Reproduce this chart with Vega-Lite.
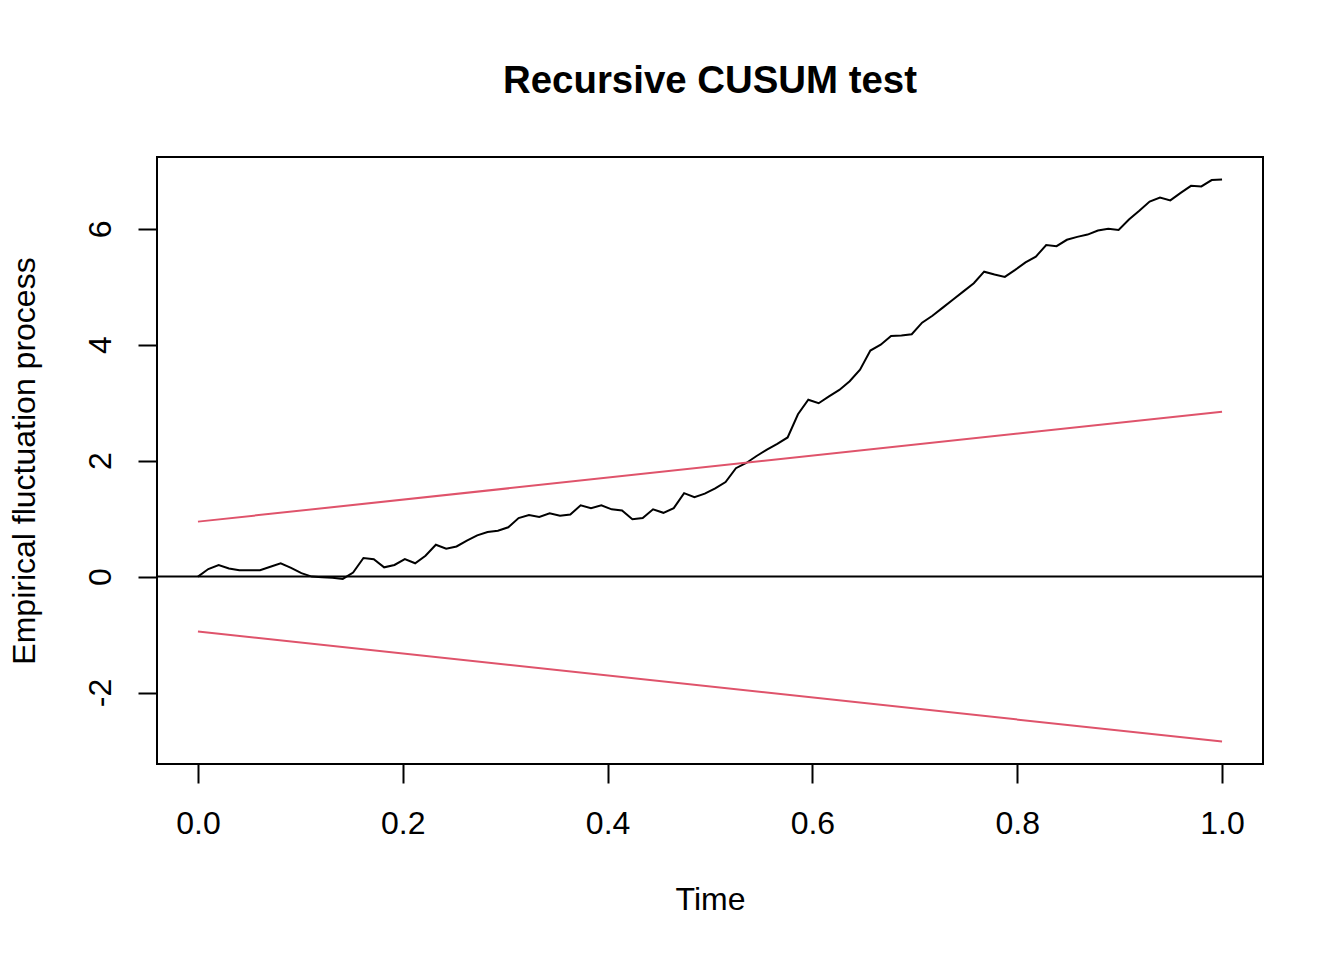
{
  "$schema": "https://vega.github.io/schema/vega-lite/v6.json",
  "width": 1106,
  "height": 607,
  "autosize": {"type": "none"},
  "padding": {"left": 157, "top": 157, "right": 81, "bottom": 196},
  "background": "white",
  "title": {
    "text": "Recursive CUSUM test",
    "font": "Liberation Sans",
    "fontSize": 38.4,
    "fontWeight": "bold",
    "color": "black",
    "anchor": "middle",
    "baseline": "alphabetic",
    "offset": 26
  },
  "datasets": {
    "lines": [
      {"t": 0, "y": 0, "series": "process"},
      {"t": 0.0101, "y": 0.13, "series": "process"},
      {"t": 0.0202, "y": 0.2, "series": "process"},
      {"t": 0.0303, "y": 0.14, "series": "process"},
      {"t": 0.0404, "y": 0.11, "series": "process"},
      {"t": 0.0505, "y": 0.11, "series": "process"},
      {"t": 0.0606, "y": 0.11, "series": "process"},
      {"t": 0.0707, "y": 0.17, "series": "process"},
      {"t": 0.0808, "y": 0.23, "series": "process"},
      {"t": 0.0909, "y": 0.15, "series": "process"},
      {"t": 0.101, "y": 0.06, "series": "process"},
      {"t": 0.1111, "y": 0.0, "series": "process"},
      {"t": 0.1212, "y": -0.01, "series": "process"},
      {"t": 0.1313, "y": -0.02, "series": "process"},
      {"t": 0.1414, "y": -0.04, "series": "process"},
      {"t": 0.1515, "y": 0.07, "series": "process"},
      {"t": 0.1616, "y": 0.32, "series": "process"},
      {"t": 0.1717, "y": 0.3, "series": "process"},
      {"t": 0.1818, "y": 0.16, "series": "process"},
      {"t": 0.1919, "y": 0.2, "series": "process"},
      {"t": 0.202, "y": 0.3, "series": "process"},
      {"t": 0.2121, "y": 0.23, "series": "process"},
      {"t": 0.2222, "y": 0.36, "series": "process"},
      {"t": 0.2323, "y": 0.55, "series": "process"},
      {"t": 0.2424, "y": 0.48, "series": "process"},
      {"t": 0.2525, "y": 0.52, "series": "process"},
      {"t": 0.2626, "y": 0.62, "series": "process"},
      {"t": 0.2727, "y": 0.71, "series": "process"},
      {"t": 0.2828, "y": 0.77, "series": "process"},
      {"t": 0.2929, "y": 0.79, "series": "process"},
      {"t": 0.303, "y": 0.85, "series": "process"},
      {"t": 0.3131, "y": 1.01, "series": "process"},
      {"t": 0.3232, "y": 1.06, "series": "process"},
      {"t": 0.3333, "y": 1.03, "series": "process"},
      {"t": 0.3434, "y": 1.09, "series": "process"},
      {"t": 0.3535, "y": 1.05, "series": "process"},
      {"t": 0.3636, "y": 1.07, "series": "process"},
      {"t": 0.3737, "y": 1.23, "series": "process"},
      {"t": 0.3838, "y": 1.18, "series": "process"},
      {"t": 0.3939, "y": 1.23, "series": "process"},
      {"t": 0.404, "y": 1.16, "series": "process"},
      {"t": 0.4141, "y": 1.14, "series": "process"},
      {"t": 0.4242, "y": 0.99, "series": "process"},
      {"t": 0.4343, "y": 1.01, "series": "process"},
      {"t": 0.4444, "y": 1.16, "series": "process"},
      {"t": 0.4545, "y": 1.1, "series": "process"},
      {"t": 0.4646, "y": 1.18, "series": "process"},
      {"t": 0.4747, "y": 1.44, "series": "process"},
      {"t": 0.4848, "y": 1.37, "series": "process"},
      {"t": 0.4949, "y": 1.43, "series": "process"},
      {"t": 0.5051, "y": 1.52, "series": "process"},
      {"t": 0.5152, "y": 1.63, "series": "process"},
      {"t": 0.5253, "y": 1.87, "series": "process"},
      {"t": 0.5354, "y": 1.96, "series": "process"},
      {"t": 0.5455, "y": 2.08, "series": "process"},
      {"t": 0.5556, "y": 2.19, "series": "process"},
      {"t": 0.5657, "y": 2.29, "series": "process"},
      {"t": 0.5758, "y": 2.4, "series": "process"},
      {"t": 0.5859, "y": 2.8, "series": "process"},
      {"t": 0.596, "y": 3.05, "series": "process"},
      {"t": 0.6061, "y": 2.99, "series": "process"},
      {"t": 0.6162, "y": 3.11, "series": "process"},
      {"t": 0.6263, "y": 3.22, "series": "process"},
      {"t": 0.6364, "y": 3.37, "series": "process"},
      {"t": 0.6465, "y": 3.57, "series": "process"},
      {"t": 0.6566, "y": 3.9, "series": "process"},
      {"t": 0.6667, "y": 4.0, "series": "process"},
      {"t": 0.6768, "y": 4.15, "series": "process"},
      {"t": 0.6869, "y": 4.16, "series": "process"},
      {"t": 0.697, "y": 4.18, "series": "process"},
      {"t": 0.7071, "y": 4.38, "series": "process"},
      {"t": 0.7172, "y": 4.5, "series": "process"},
      {"t": 0.7273, "y": 4.64, "series": "process"},
      {"t": 0.7374, "y": 4.78, "series": "process"},
      {"t": 0.7475, "y": 4.92, "series": "process"},
      {"t": 0.7576, "y": 5.06, "series": "process"},
      {"t": 0.7677, "y": 5.26, "series": "process"},
      {"t": 0.7778, "y": 5.21, "series": "process"},
      {"t": 0.7879, "y": 5.17, "series": "process"},
      {"t": 0.798, "y": 5.29, "series": "process"},
      {"t": 0.8081, "y": 5.42, "series": "process"},
      {"t": 0.8182, "y": 5.52, "series": "process"},
      {"t": 0.8283, "y": 5.72, "series": "process"},
      {"t": 0.8384, "y": 5.7, "series": "process"},
      {"t": 0.8485, "y": 5.81, "series": "process"},
      {"t": 0.8586, "y": 5.86, "series": "process"},
      {"t": 0.8687, "y": 5.9, "series": "process"},
      {"t": 0.8788, "y": 5.97, "series": "process"},
      {"t": 0.8889, "y": 6.0, "series": "process"},
      {"t": 0.899, "y": 5.98, "series": "process"},
      {"t": 0.9091, "y": 6.16, "series": "process"},
      {"t": 0.9192, "y": 6.31, "series": "process"},
      {"t": 0.9293, "y": 6.47, "series": "process"},
      {"t": 0.9394, "y": 6.54, "series": "process"},
      {"t": 0.9495, "y": 6.49, "series": "process"},
      {"t": 0.9596, "y": 6.62, "series": "process"},
      {"t": 0.9697, "y": 6.74, "series": "process"},
      {"t": 0.9798, "y": 6.73, "series": "process"},
      {"t": 0.9899, "y": 6.84, "series": "process"},
      {"t": 1, "y": 6.85, "series": "process"},
      {"t": 0, "y": 0.948, "series": "upper"},
      {"t": 1, "y": 2.845, "series": "upper"},
      {"t": 0, "y": -0.948, "series": "lower"},
      {"t": 1, "y": -2.845, "series": "lower"}
    ]
  },
  "layer": [
    {
      "data": {"name": "lines"},
      "mark": {"type": "line", "strokeWidth": 2, "clip": true},
      "encoding": {
        "x": {
          "field": "t",
          "type": "quantitative",
          "scale": {"domain": [-0.04, 1.04], "nice": false, "zero": false},
          "axis": {
            "title": "Time",
            "values": [0, 0.2, 0.4, 0.6, 0.8, 1],
            "format": ".1f",
            "labelBaseline": "middle",
            "labelPadding": 40,
            "titleBaseline": "middle",
            "titleY": 135
          }
        },
        "y": {
          "field": "y",
          "type": "quantitative",
          "scale": {"domain": [-3.233, 7.238], "nice": false, "zero": false},
          "axis": {
            "title": "Empirical fluctuation process",
            "values": [-2, 0, 2, 4, 6],
            "labelExpr": "'' + datum.value",
            "labelAngle": -90,
            "labelAlign": "center",
            "labelBaseline": "middle",
            "labelPadding": 38,
            "titleAngle": -90,
            "titleAlign": "center",
            "titleBaseline": "middle",
            "titleX": -133,
            "titleY": 303.5
          }
        },
        "color": {
          "field": "series",
          "type": "nominal",
          "scale": {
            "domain": ["process", "upper", "lower"],
            "range": ["black", "#DF536B", "#DF536B"]
          },
          "legend": null
        }
      }
    },
    {
      "data": {"values": [{"y": 0}]},
      "mark": {"type": "rule", "color": "black", "strokeWidth": 2},
      "encoding": {
        "y": {
          "field": "y",
          "type": "quantitative",
          "axis": {
            "title": "Empirical fluctuation process",
            "values": [-2, 0, 2, 4, 6],
            "labelExpr": "'' + datum.value",
            "labelAngle": -90,
            "labelAlign": "center",
            "labelBaseline": "middle",
            "labelPadding": 38,
            "titleAngle": -90,
            "titleAlign": "center",
            "titleBaseline": "middle",
            "titleX": -133,
            "titleY": 303.5
          }
        }
      }
    }
  ],
  "config": {
    "view": {"stroke": "black", "strokeWidth": 2},
    "axis": {
      "domain": false,
      "grid": false,
      "ticks": true,
      "tickColor": "black",
      "tickWidth": 2,
      "tickSize": 19,
      "labelFont": "Liberation Sans",
      "labelFontSize": 32,
      "labelColor": "black",
      "titleFont": "Liberation Sans",
      "titleFontSize": 32,
      "titleFontWeight": "normal",
      "titleColor": "black"
    }
  }
}
